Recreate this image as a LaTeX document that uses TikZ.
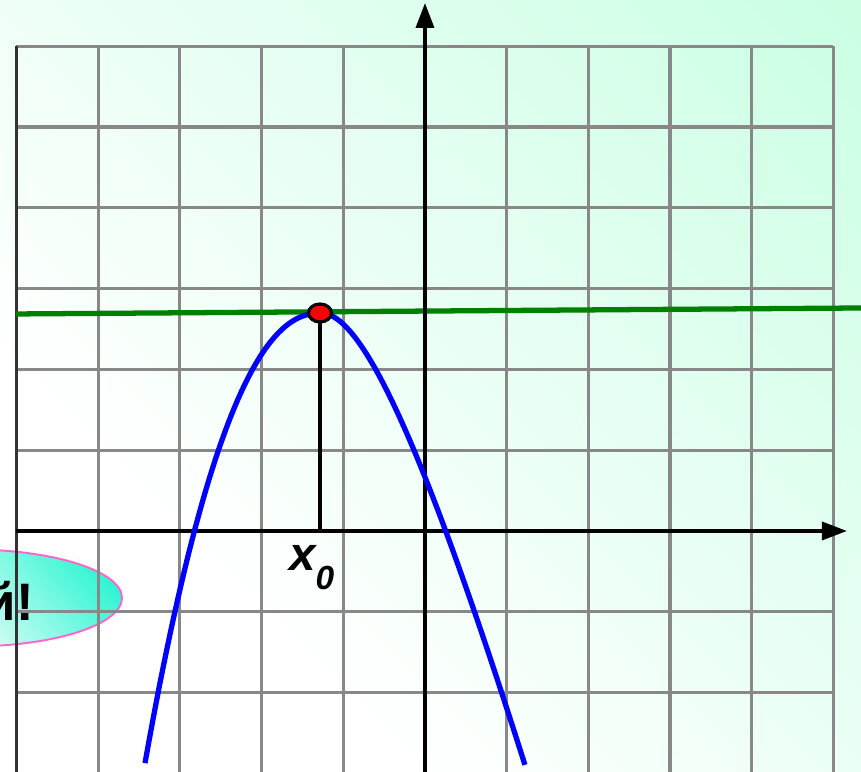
\documentclass[tikz,border=0pt]{standalone}
\usepackage{fontspec}
\setmainfont{Liberation Sans}
\usetikzlibrary{arrows.meta, shapes.geometric}

\definecolor{mint}{HTML}{BBFFDC}
\definecolor{gridgray}{HTML}{888888}
\definecolor{aqua}{HTML}{30F5D2}
\definecolor{pinkline}{HTML}{FF66CC}
\definecolor{darkgreen}{HTML}{008000}

% 背景和椭圆的渐变
\pgfdeclarehorizontalshading{bgfade}{100bp}{color(0bp)=(white); color(32bp)=(white); color(100bp)=(mint)}
\pgfdeclarehorizontalshading{bubblefade}{100bp}{color(0bp)=(white); color(38bp)=(white); color(78bp)=(aqua); color(100bp)=(aqua)}

\begin{document}
\begin{tikzpicture}[
    x=1.634cm, y=1.616cm,
    grid line/.style={gridgray, line width=1.8pt},
    axis line/.style={line width=2pt, -{Triangle[length=5mm, width=3.6mm]}},
    curve line/.style={blue, line width=3pt, line join=round},
    tangent line/.style={darkgreen, line width=3pt},
    apex dot/.style={
        ellipse,
        draw=black,
        fill=red,
        line width=1.8pt,
        minimum width=4.6mm,
        minimum height=3.6mm,
        inner sep=0pt
    },
    bubble/.style={
        ellipse,
        draw=pinkline,
        line width=1.1pt,
        shading=bubblefade,
        shading angle=40,
        minimum width=6.08cm,
        minimum height=1.94cm
    }
]
    % 画面范围
    \useasboundingbox (-5.202,-2.983) rectangle (5.337,6.572);
    \clip (-5.202,-2.983) rectangle (5.337,6.572);
    \fill[shading=bgfade, shading angle=45] (-5.202,-2.983) rectangle (5.337,6.572);

    % 椭圆在网格下面
    \node[bubble] (bubble) at (-5.569,-0.829) {};

    % 网格
    \draw[grid line] (-5,-3.1) grid[step={(1,1)}] (5,6);
    \draw[black!80, line width=1.8pt] (-5,-3.1) -- (-5,6);

    % 切线
    \coordinate (tl) at (-5.006,2.686);
    \coordinate (tr) at (5.337,2.760);
    \draw[tangent line] (tl) -- (tr);

    % 坐标轴
    \coordinate (o) at (0,0);
    \coordinate (xl) at (-5,0);
    \coordinate (xr) at (5.165,0);
    \coordinate (yb) at (0,-3.1);
    \coordinate (yt) at (0,6.535);
    \draw[axis line] (xl) -- (xr);
    \draw[axis line] (yb) -- (yt);

    % 曲线（左右两支）
    \draw[curve line]
        plot[domain=2.154:0.001, samples=50] ({-1.273-\x},{2.698-1.03*(\x)^2.2})
        -- plot[domain=0:2.497, samples=50] ({-1.273+\x},{2.698-2.134*\x*\x/(1+0.552*\x)});

    % 顶点和垂线
    \coordinate (apex) at (-1.285,2.698);
    \coordinate (foot) at (-1.285,0);
    \draw[black, line width=2.1pt] (apex) -- (foot);
    \node[apex dot] (dot) at (apex) {};

    % 文字
    \node[anchor=base west, inner sep=0pt] (xzero) at (-1.665,-0.483)
        {\fontsize{27}{27}\selectfont\bfseries\itshape x\raisebox{-11pt}{\fontsize{19}{19}\selectfont 0}};
    \node[anchor=base east, inner sep=0pt] (praise) at (-4.786,-1.114)
        {\fontsize{30}{30}\selectfont\bfseries й!};
\end{tikzpicture}
\end{document}
